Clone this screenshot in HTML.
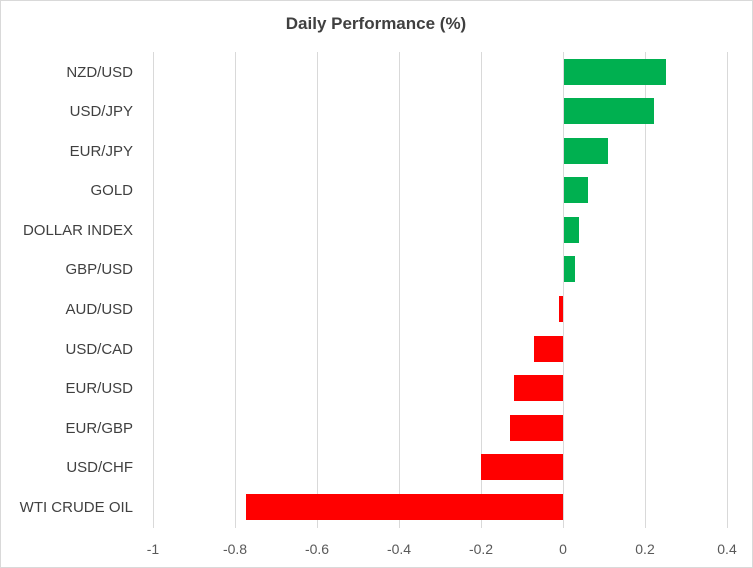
<!DOCTYPE html>
<html><head><style>
body{margin:0;background:#fff;}
svg{display:block;font-family:"Liberation Sans",sans-serif;}
</style></head><body>
<svg width="753" height="568" viewBox="0 0 753 568">
<rect x="0.5" y="0.5" width="752" height="567" fill="#fff" stroke="#d9d9d9"/>
<text x="376" y="29" text-anchor="middle" font-size="17" font-weight="bold" fill="#404040">Daily Performance  (%)</text>
<g stroke="#d9d9d9" stroke-width="1">
<line x1="235.5" y1="52" x2="235.5" y2="528"/>
<line x1="317.5" y1="52" x2="317.5" y2="528"/>
<line x1="399.5" y1="52" x2="399.5" y2="528"/>
<line x1="481.5" y1="52" x2="481.5" y2="528"/>
<line x1="645.5" y1="52" x2="645.5" y2="528"/>
<line x1="727.5" y1="52" x2="727.5" y2="528"/>
<line x1="153.5" y1="52" x2="153.5" y2="528"/>
</g>
<g fill="#00B050">
<rect x="563" y="59" width="103" height="26"/>
<rect x="563" y="98" width="91" height="26"/>
<rect x="563" y="138" width="45" height="26"/>
<rect x="563" y="177" width="25" height="26"/>
<rect x="563" y="217" width="16" height="26"/>
<rect x="563" y="256" width="12" height="26"/>
</g>
<g fill="#FF0000">
<rect x="559" y="296" width="4" height="26"/>
<rect x="534" y="336" width="29" height="26"/>
<rect x="514" y="375" width="49" height="26"/>
<rect x="510" y="415" width="53" height="26"/>
<rect x="481" y="454" width="82" height="26"/>
<rect x="246" y="494" width="317" height="26"/>
</g>
<line x1="563.5" y1="52" x2="563.5" y2="528" stroke="#d9d9d9"/>
<g font-size="15" fill="#404040" text-anchor="end">
<text x="133" y="77">NZD/USD</text>
<text x="133" y="116">USD/JPY</text>
<text x="133" y="156">EUR/JPY</text>
<text x="133" y="195">GOLD</text>
<text x="133" y="235">DOLLAR INDEX</text>
<text x="133" y="274">GBP/USD</text>
<text x="133" y="314">AUD/USD</text>
<text x="133" y="354">USD/CAD</text>
<text x="133" y="393">EUR/USD</text>
<text x="133" y="433">EUR/GBP</text>
<text x="133" y="472">USD/CHF</text>
<text x="133" y="512">WTI CRUDE OIL</text>
</g>
<g font-size="14" fill="#595959" text-anchor="middle">
<text x="153" y="554">-1</text>
<text x="235" y="554">-0.8</text>
<text x="317" y="554">-0.6</text>
<text x="399" y="554">-0.4</text>
<text x="481" y="554">-0.2</text>
<text x="563" y="554">0</text>
<text x="645" y="554">0.2</text>
<text x="727" y="554">0.4</text>
</g>
</svg>
</body></html>
